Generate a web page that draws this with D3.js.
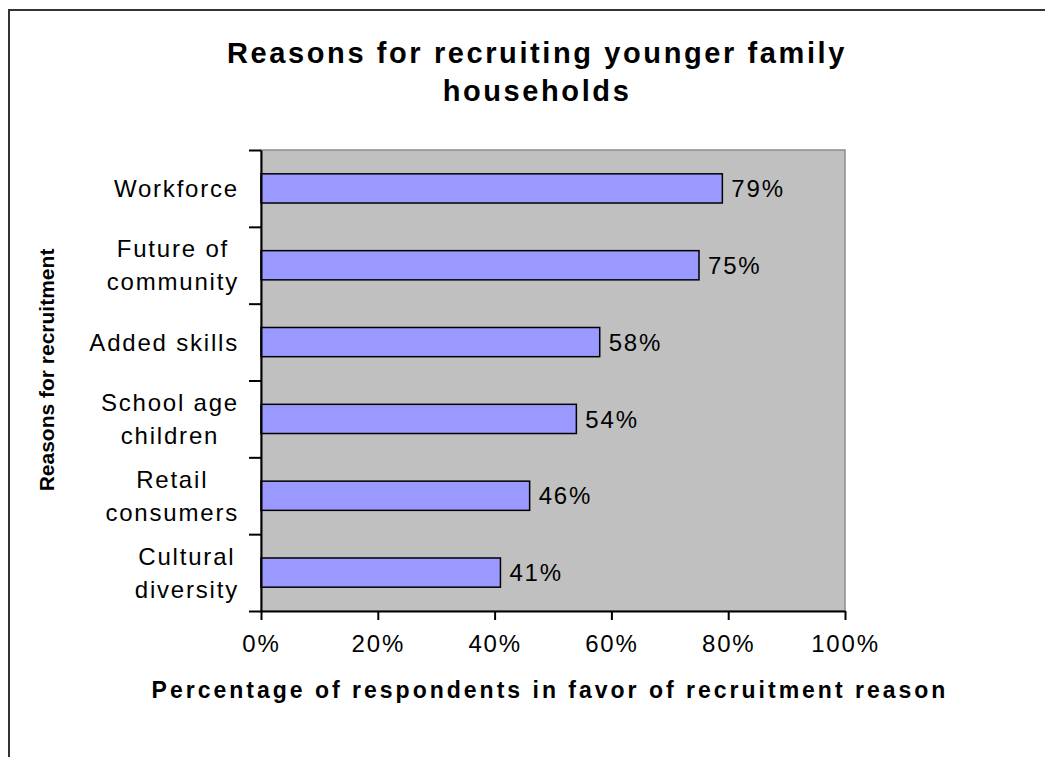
<!DOCTYPE html>
<html>
<head>
<meta charset="utf-8">
<script src="https://cdnjs.cloudflare.com/ajax/libs/d3/7.8.5/d3.min.js"></script>
<style>
  body { margin: 0; background: #fff; }
  text { font-family: "Liberation Sans", Arial, sans-serif; fill: #000; }
</style>
</head>
<body>
<svg width="1045" height="757"></svg>
<script>
// chart data
var categories = [
    ["Workforce"],
    ["Future of", "community"],
    ["Added skills"],
    ["School age", "children"],
    ["Retail", "consumers"],
    ["Cultural", "diversity"]
];
var values = [0.79, 0.75, 0.58, 0.54, 0.46, 0.41];
var xTicks = [0, 0.2, 0.4, 0.6, 0.8, 1.0];
var titleLines = ["Reasons for recruiting younger family", "households"];
var xTitle = "Percentage of respondents in favor of recruitment reason";
var yTitle = "Reasons for recruitment";

var svg = d3.select("svg"),
    margin = { top: 150, right: 200, bottom: 146, left: 261 },
    width = +svg.attr("width") - margin.left - margin.right,
    height = +svg.attr("height") - margin.top - margin.bottom;

// outer frame (only top and left visible)
svg.append("path")
    .attr("d", "M9,757V10H1045")
    .attr("fill", "none")
    .attr("stroke", "#333")
    .attr("stroke-width", 2);

var g = svg.append("g").attr("transform", "translate(" + margin.left + "," + margin.top + ")");

var keys = categories.map(function (d) { return d.join(" "); });

var x = d3.scaleLinear().domain([0, 1]).range([0, width]);
var y = d3.scaleBand().domain(keys).range([0, height])
    .paddingInner(0.62).paddingOuter(0.31);
var yEdge = d3.scaleLinear().domain([0, keys.length]).range([0, height]);

// plot background
g.append("rect")
    .attr("width", width)
    .attr("height", height)
    .attr("fill", "#c0c0c0")
    .attr("stroke", "#8c8c8c")
    .attr("stroke-width", 1.5);

// bars
g.selectAll("rect.bar")
    .data(values)
    .enter()
    .append("rect")
    .attr("class", "bar")
    .attr("x", 0)
    .attr("y", function (d, i) { return y(keys[i]); })
    .attr("width", function (d) { return x(d); })
    .attr("height", y.bandwidth())
    .attr("fill", "#9999ff")
    .attr("stroke", "#000")
    .attr("stroke-width", 1.5);

// value labels
g.selectAll("text.val")
    .data(values)
    .enter()
    .append("text")
    .attr("class", "val")
    .attr("x", function (d) { return x(d) + 9; })
    .attr("y", function (d, i) { return y(keys[i]) + y.bandwidth() / 2; })
    .attr("dy", "0.36em")
    .style("font-size", "24px")
    .style("letter-spacing", "1.8px")
    .text(function (d) { return d3.format(".0%")(d); });

// x axis
var xAxis = g.append("g")
    .attr("transform", "translate(0," + height + ")")
    .call(d3.axisBottom(x).tickValues(xTicks).tickFormat(d3.format(".0%"))
        .tickSize(9).tickSizeOuter(0).tickPadding(15));
xAxis.select(".domain").attr("stroke", "#000").attr("stroke-width", 2);
xAxis.selectAll(".tick line").attr("stroke", "#000").attr("stroke-width", 2);
xAxis.selectAll(".tick text")
    .style("font-size", "24px")
    .style("letter-spacing", "1.8px")
    .style("font-family", "Liberation Sans, Arial, sans-serif")
    .attr("fill", "#000");

// y axis: ticks at category boundaries
var yAxis = g.append("g")
    .call(d3.axisLeft(yEdge).ticks(keys.length).tickFormat("").tickSize(12).tickSizeOuter(0));
yAxis.select(".domain").attr("stroke", "#000").attr("stroke-width", 2);
yAxis.selectAll(".tick line").attr("stroke", "#000").attr("stroke-width", 2);

// category labels, block right-aligned, lines centered
categories.forEach(function (lines, i) {
    var cy = y(keys[i]) + y.bandwidth() / 2;
    var lh = 33;
    var grp = g.append("g");
    var texts = lines.map(function (line, j) {
        return grp.append("text")
            .attr("y", cy + (j - (lines.length - 1) / 2) * lh)
            .attr("dy", "0.36em")
            .attr("text-anchor", "middle")
            .style("font-size", "24px")
            .style("letter-spacing", "1.8px")
            .text(line);
    });
    var maxW = d3.max(texts, function (t) { return t.node().getComputedTextLength(); });
    texts.forEach(function (t) { t.attr("x", -22 - maxW / 2); });
});

// title
svg.append("g").selectAll("text")
    .data(titleLines)
    .enter()
    .append("text")
    .attr("x", 537)
    .attr("y", function (d, i) { return 63 + i * 38; })
    .attr("text-anchor", "middle")
    .style("font-size", "29px")
    .style("font-weight", "bold")
    .style("letter-spacing", "2.6px")
    .text(function (d) { return d; });

// x axis title
svg.append("text")
    .attr("x", 550)
    .attr("y", 698)
    .attr("text-anchor", "middle")
    .style("font-size", "23px")
    .style("font-weight", "bold")
    .style("letter-spacing", "3px")
    .text(xTitle);

// y axis title
svg.append("text")
    .attr("transform", "translate(54,370) rotate(-90)")
    .attr("text-anchor", "middle")
    .style("font-size", "21px")
    .style("font-weight", "bold")
    .text(yTitle);
</script>
</body>
</html>
